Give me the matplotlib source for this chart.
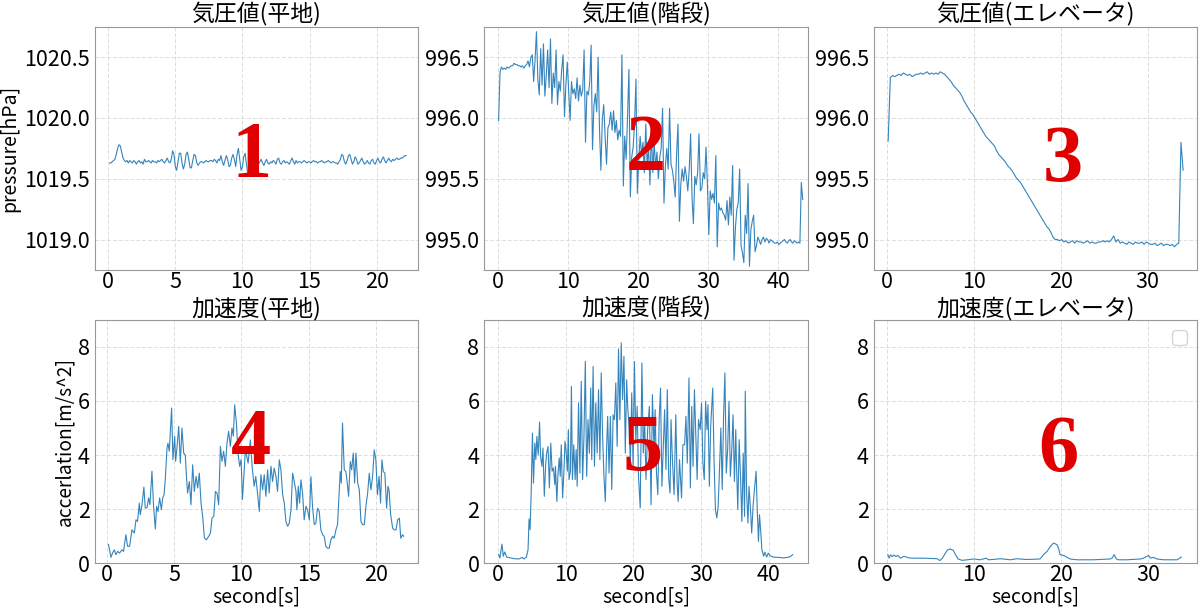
import numpy as np
import matplotlib
matplotlib.use("Agg")
import matplotlib.pyplot as plt

plt.rcParams['font.family'] = ['Noto Sans CJK JP', 'DejaVu Sans']

# 気圧値(平地)  サンプル間隔 0.1s, 0.1s から
p_flat = [1019.63, 1019.63, 1019.64, 1019.65, 1019.66,
          1019.70, 1019.75, 1019.78, 1019.77, 1019.72, 1019.67, 1019.65,
          1019.64, 1019.65, 1019.63, 1019.65, 1019.64, 1019.63, 1019.65, 1019.64, 1019.62, 1019.64, 1019.65, 1019.63, 1019.64,
          1019.62, 1019.66, 1019.64, 1019.64, 1019.65, 1019.64, 1019.63, 1019.65, 1019.64, 1019.64, 1019.63, 1019.65, 1019.64,
          1019.65, 1019.66, 1019.64, 1019.63, 1019.65, 1019.67, 1019.64, 1019.63,
          1019.66, 1019.73, 1019.70, 1019.60, 1019.57, 1019.64, 1019.71, 1019.71, 1019.63, 1019.58, 1019.62, 1019.70, 1019.72,
          1019.66, 1019.59, 1019.59, 1019.65, 1019.70, 1019.69, 1019.63, 1019.61,
          1019.63, 1019.64, 1019.64, 1019.63, 1019.64, 1019.65, 1019.64, 1019.64, 1019.65, 1019.65, 1019.64, 1019.66, 1019.65,
          1019.63, 1019.66, 1019.65,
          1019.69, 1019.64, 1019.61, 1019.65, 1019.69, 1019.66, 1019.60, 1019.61, 1019.67, 1019.70, 1019.66, 1019.60, 1019.70,
          1019.75, 1019.66, 1019.57, 1019.60, 1019.68, 1019.71, 1019.62, 1019.54, 1019.56, 1019.63, 1019.66, 1019.62,
          1019.60, 1019.63, 1019.64, 1019.62, 1019.64, 1019.66, 1019.63, 1019.61, 1019.64, 1019.66, 1019.63, 1019.62, 1019.64,
          1019.63, 1019.65, 1019.64, 1019.62, 1019.66, 1019.67, 1019.63, 1019.62, 1019.64, 1019.65, 1019.63, 1019.64, 1019.63,
          1019.62, 1019.65, 1019.67, 1019.64, 1019.62, 1019.65, 1019.63, 1019.64, 1019.64, 1019.63, 1019.64, 1019.65, 1019.64,
          1019.63, 1019.64, 1019.64, 1019.63, 1019.64, 1019.65, 1019.64, 1019.64, 1019.63, 1019.64, 1019.64, 1019.65, 1019.64,
          1019.63, 1019.64, 1019.64, 1019.65, 1019.64, 1019.63, 1019.64, 1019.64, 1019.63, 1019.63, 1019.62, 1019.64, 1019.66,
          1019.70, 1019.69, 1019.64, 1019.62, 1019.65, 1019.69, 1019.70, 1019.66, 1019.62, 1019.64, 1019.68, 1019.66, 1019.62,
          1019.63, 1019.65, 1019.67, 1019.64, 1019.62, 1019.63, 1019.65, 1019.63, 1019.62, 1019.65, 1019.66, 1019.63, 1019.62,
          1019.65, 1019.67, 1019.64, 1019.63, 1019.66, 1019.68, 1019.65, 1019.63, 1019.65, 1019.67, 1019.65, 1019.64, 1019.66,
          1019.65, 1019.66, 1019.67, 1019.66, 1019.66, 1019.67, 1019.67, 1019.68, 1019.69, 1019.69]

# 気圧値(階段)  サンプル間隔 0.2s, 0.1s から
p_stairs = [995.98, 996.38, 996.42, 996.40, 996.41, 996.40, 996.42, 996.41, 996.42, 996.43, 996.43, 996.45, 996.44,
            996.44, 996.43, 996.43, 996.42, 996.43, 996.41, 996.43, 996.44, 996.47, 996.42, 996.50, 996.52,
            996.30, 996.48, 996.71, 996.32, 996.19, 996.57, 996.27, 996.61, 996.18, 996.35, 996.56, 996.25, 996.65,
            996.12, 996.37, 996.25, 996.56, 996.11, 996.30, 996.22, 996.40, 996.52, 996.01, 996.27, 996.46, 996.22,
            995.98, 996.30, 996.20, 996.24, 996.16, 996.33, 996.14, 996.27, 996.18, 996.23, 996.56, 995.80, 996.22,
            996.19, 996.29, 996.60, 995.74, 996.10, 996.20, 996.05, 996.50, 995.90, 995.57, 995.99, 996.11, 995.85,
            995.62, 995.92, 995.95, 996.05, 995.90, 996.06, 995.88, 995.98, 995.82, 995.90, 995.85, 996.52, 995.44,
            995.85, 995.66, 996.01, 996.40, 995.35, 995.68, 995.76, 995.95, 996.32, 995.38, 995.65, 995.85, 995.70,
            995.80, 995.55, 995.95, 995.62, 995.75, 995.45, 995.90, 995.55, 995.80, 995.60, 995.72, 995.50, 995.68,
            995.75, 996.08, 995.30, 995.60, 995.75, 995.58, 996.08, 995.62, 995.57, 995.48, 995.35, 995.70, 995.95,
            995.15, 995.45, 995.58, 995.48, 995.60, 995.52, 995.40, 995.57, 995.87, 995.35, 995.13, 995.52, 995.45,
            995.55, 995.87, 995.40, 995.42, 995.55, 995.50, 995.76, 995.45, 995.04, 995.40, 995.33, 995.38, 995.30,
            995.69, 994.94, 995.30, 995.24, 995.26, 995.22, 995.20, 995.16, 995.32, 995.12, 995.35, 995.20, 995.61,
            994.83, 995.10, 995.25, 995.30, 995.58, 994.95, 994.89, 994.81, 995.20, 995.05, 995.46, 994.78, 995.08,
            995.15, 995.20, 994.90, 994.95, 995.02, 994.99, 994.96, 995.00, 995.02, 994.98, 995.01, 995.00, 994.97,
            995.00, 994.99, 994.98, 994.97, 994.97, 994.98, 994.96, 994.97, 994.98, 994.99, 995.00, 994.98, 994.97,
            994.99, 995.00, 994.98, 994.97, 994.99, 994.98, 994.97, 994.98, 994.97, 995.47, 995.33]

# 気圧値(エレベータ)  サンプル間隔 0.25s, 0.1s から
p_elev = [995.81, 996.33, 996.35, 996.34, 996.35, 996.36, 996.35, 996.37, 996.36, 996.35, 996.36, 996.34, 996.35,
          996.36, 996.36, 996.37, 996.36, 996.37, 996.38, 996.36, 996.37, 996.36, 996.37, 996.36, 996.38, 996.37,
          996.36, 996.34, 996.32, 996.30, 996.27, 996.25, 996.23, 996.21, 996.18, 996.14, 996.11, 996.08, 996.05,
          996.03, 996.00, 995.97, 995.94, 995.91, 995.88, 995.85, 995.83, 995.81, 995.79, 995.77, 995.73, 995.70,
          995.68, 995.66, 995.64, 995.61, 995.59, 995.57, 995.54, 995.51, 995.49, 995.47, 995.44, 995.41, 995.38,
          995.35, 995.32, 995.29, 995.26, 995.23, 995.20, 995.17, 995.14, 995.11, 995.09, 995.06, 995.02, 995.00,
          995.00, 994.99, 995.00, 994.98, 994.99, 994.97, 994.98, 994.99, 994.97, 994.99, 994.98, 994.98, 994.97,
          994.98, 994.99, 994.97, 994.98, 994.97, 994.97, 994.98, 994.98, 994.99, 994.98, 994.99, 994.98, 995.00,
          995.03, 994.98, 995.00, 994.97, 994.98, 994.97, 994.96, 994.98, 994.97, 994.96, 994.98, 994.97, 994.97,
          994.98, 994.96, 994.98, 994.97, 994.96, 994.96, 994.97, 994.95, 994.96, 994.97, 994.95, 994.96, 994.96,
          994.95, 994.96, 994.94, 994.96, 994.97, 995.80, 995.57]

# 加速度(平地)
a_flat_t = [0.12, 0.30, 0.42, 0.55, 0.67, 0.80, 0.94, 1.12, 1.24, 1.41, 1.54, 1.69, 1.86, 2.04, 2.16, 2.28, 2.41,
            2.48, 2.61, 2.75, 2.85, 2.98, 3.10, 3.20, 3.35, 3.47, 3.60, 3.70, 3.80, 3.92, 4.05, 4.15, 4.25, 4.34,
            4.47, 4.54, 4.64, 4.81, 4.91, 5.04, 5.11, 5.21, 5.34, 5.46, 5.58, 5.71, 5.83, 5.90, 6.00, 6.13, 6.25,
            6.38, 6.50, 6.63, 6.75, 6.87, 7.00, 7.12, 7.25, 7.40, 7.57, 7.70, 7.82, 7.95, 8.07, 8.19, 8.31, 8.44,
            8.56, 8.68, 8.81, 8.93, 9.05, 9.18, 9.30, 9.40, 9.50, 9.63, 9.75, 9.87, 9.98, 10.08, 10.30, 10.50,
            10.67, 10.80, 10.95, 11.07, 11.20, 11.33, 11.45, 11.58, 11.70, 11.82, 11.95, 12.07, 12.20, 12.32,
            12.44, 12.57, 12.69, 12.82, 12.94, 13.07, 13.19, 13.31, 13.44, 13.56, 13.69, 13.81, 13.93, 14.06,
            14.13, 14.23, 14.33, 14.43, 14.55, 14.67, 14.80, 14.92, 15.05, 15.17, 15.29, 15.42, 15.54, 15.66,
            15.79, 15.91, 16.04, 16.16, 16.28, 16.41, 16.53, 16.66, 16.78, 16.90, 17.03, 17.15, 17.28, 17.35,
            17.43, 17.52, 17.65, 17.77, 17.90, 17.97, 18.10, 18.20, 18.32, 18.42, 18.52, 18.65, 18.77, 18.89,
            19.02, 19.14, 19.26, 19.39, 19.51, 19.63, 19.76, 19.88, 20.00, 20.12, 20.24, 20.35, 20.45, 20.55,
            20.67, 20.80, 20.90, 20.98, 21.10, 21.25, 21.37, 21.50, 21.62, 21.75, 21.85, 21.99, 22.07]
a_flat = [0.68, 0.21, 0.37, 0.49, 0.31, 0.43, 0.37, 0.49, 0.43, 1.05, 0.62, 0.62, 1.23, 1.11, 1.60, 1.54, 2.22,
          1.79, 2.16, 2.81, 2.04, 2.04, 2.41, 2.16, 3.40, 2.10, 1.26, 2.10, 1.91, 2.41, 1.98, 2.41, 2.53, 3.09,
          4.26, 4.44, 4.14, 5.74, 3.83, 4.69, 3.77, 4.26, 5.06, 3.70, 5.00, 4.07, 4.00, 3.33, 2.59, 3.02, 2.16,
          3.64, 2.65, 3.21, 2.78, 3.33, 2.22, 1.73, 0.93, 0.86, 0.99, 1.11, 1.67, 1.73, 2.65, 2.59, 2.16, 4.32,
          3.77, 4.14, 3.58, 4.44, 4.88, 4.32, 5.00, 4.70, 5.86, 5.19, 4.07, 3.58, 3.83, 2.35, 4.20, 3.70,
          4.56, 3.58, 2.84, 3.21, 2.59, 1.91, 3.27, 2.71, 3.27, 2.47, 3.45, 2.59, 3.58, 3.02,
          3.51, 3.21, 2.65, 3.82, 3.45, 2.53, 2.22, 1.54, 1.36, 1.48, 1.97, 3.33, 3.02, 2.65,
          1.97, 2.84, 2.22, 3.08, 2.59, 1.60, 2.10, 1.97, 1.60, 3.20, 2.10, 1.42, 1.48, 2.03,
          1.91, 1.23, 1.05, 0.99, 0.62, 0.55, 0.55, 0.86, 0.99, 0.92, 1.23, 1.42, 2.71, 3.39,
          2.96, 5.18, 3.45, 3.39, 2.84, 2.47, 3.76, 3.45, 4.07, 2.96, 4.07, 2.96, 2.71, 1.54,
          1.42, 1.42, 2.10, 2.59, 3.33, 2.71, 3.21, 4.19, 3.82, 2.53, 3.21, 2.22, 3.82, 3.39,
          3.33, 2.03, 2.84, 2.71, 1.79, 1.29, 1.23, 1.23, 1.60, 1.66, 0.92, 1.05, 0.99]

# 加速度(階段)
a_stairs_t = [0.1, 0.3, 0.6, 0.8, 1.0, 1.3, 1.7, 2.4, 3.1, 3.6, 3.85, 4.2, 4.45, 4.6, 4.75, 4.9, 5.1, 5.25,
              5.45, 5.6, 5.75, 5.95, 6.15, 6.3, 6.5, 6.65, 6.85, 7.05, 7.2, 7.4, 7.6, 7.8, 8.0, 8.2, 8.4, 8.5,
              8.7, 8.85, 9.05, 9.2, 9.35, 9.55, 9.75, 9.9, 10.05, 10.25, 10.4, 10.5, 10.7, 10.85, 11.0, 11.2,
              11.4, 11.55, 11.7, 11.9, 12.1, 12.3, 12.5, 12.7, 12.9, 13.1, 13.3, 13.5, 13.7, 13.85, 14.05,
              14.25, 14.45, 14.65, 14.85, 15.05, 15.25, 15.45, 15.65, 15.85, 16.05, 16.2, 16.4, 16.6, 16.8,
              17.0, 17.2, 17.4, 17.6, 17.8, 18.0, 18.2, 18.4, 18.6, 18.8, 19.0, 19.15, 19.35, 19.55, 19.75,
              19.95, 20.15, 20.35, 20.55, 20.75, 21.0, 21.25, 21.45, 21.65, 21.85, 22.1, 22.35, 22.6, 22.8,
              23.05, 23.2, 23.4, 23.6, 23.8, 24.0, 24.2, 24.4, 24.6, 24.8, 25.0, 25.2, 25.4, 25.55, 25.75,
              26.0, 26.25, 26.45, 26.6, 26.8, 27.1, 27.3, 27.55, 27.75, 27.95, 28.2, 28.4, 28.6, 28.8, 29.0,
              29.2, 29.4, 29.6, 29.85, 30.05, 30.25, 30.45, 30.65, 30.85, 31.0, 31.2, 31.4, 31.7, 31.9, 32.1,
              32.3, 32.5, 32.7, 32.9, 33.1, 33.3, 33.5, 33.7, 33.9, 34.1, 34.3, 34.5, 34.7, 34.9, 35.1, 35.2,
              35.4, 35.6, 35.8, 36.0, 36.2, 36.4, 36.5, 36.7, 36.9, 37.05, 37.25, 37.45, 37.65, 37.85, 38.1,
              38.25, 38.45, 38.6, 38.8, 38.95, 39.1, 39.2, 39.4, 39.65, 39.9, 40.15, 40.65, 41.4, 42.1, 42.8,
              43.2, 43.5]
a_stairs = [0.31, 0.19, 0.70, 0.25, 0.41, 0.22, 0.20, 0.16, 0.15, 0.21, 0.15, 0.22, 0.49, 1.63, 1.23, 2.47, 4.81,
            2.96, 4.44, 3.83, 4.69, 4.01, 5.22, 3.95, 3.58, 4.26, 2.47, 3.64, 4.07, 4.32, 2.78, 4.44, 3.40, 3.52,
            2.90, 3.58, 2.28, 3.21, 3.89, 3.21, 4.38, 2.41, 3.40, 4.51, 4.20, 3.40, 4.94, 3.09, 3.40, 6.54, 3.09,
            4.38, 3.09, 4.20, 2.84, 5.93, 3.33, 6.73, 3.09, 4.69, 7.47, 3.21, 5.31, 4.07, 6.48, 3.83, 7.28,
            3.58, 5.93, 4.07, 6.42, 3.83, 7.04, 4.69, 3.21, 2.28, 4.32, 5.43, 3.33, 5.43, 2.72,
            5.49, 5.31, 6.67, 4.32, 7.93, 5.31, 8.15, 6.05, 7.65, 4.07, 6.79, 5.80, 5.06, 3.70, 6.30,
            3.58, 7.46, 4.50, 5.80, 3.20, 2.04, 7.41, 4.07, 5.31, 3.09, 4.94, 5.80, 2.16, 6.23,
            4.14, 5.68, 3.33, 2.53, 5.31, 6.48, 2.84, 4.32, 5.68, 3.46, 6.42, 3.15, 2.59, 5.31, 3.83,
            2.53, 5.49, 2.96, 2.28, 3.83, 2.41, 4.38, 4.38, 5.43, 3.70, 6.85, 2.78, 5.80, 3.58, 6.42,
            4.69, 3.09, 5.31, 4.94, 5.93, 3.70, 3.09, 5.99, 4.94, 5.86, 2.84, 5.06, 6.48, 3.77, 1.98,
            1.67, 2.10, 3.46, 5.00, 2.72, 5.43, 7.04, 3.33, 4.20, 5.99, 3.21, 4.14, 5.49, 3.02, 4.94, 3.70,
            1.98, 4.57, 3.21, 1.54, 4.07, 1.73, 6.36, 2.59, 1.48, 2.84, 2.10, 1.11, 2.10, 2.70, 3.40,
            2.10, 0.80, 1.79, 1.11, 0.49, 0.37, 0.25, 0.40, 0.22, 0.37, 0.27, 0.22, 0.21, 0.19, 0.21,
            0.25, 0.31]

# 加速度(エレベータ)
a_elev_t = [0.15, 0.3, 0.45, 0.65, 0.85, 1.05, 1.3, 1.6, 2.0, 2.35, 2.75, 3.5, 4.3, 5.0, 5.8, 6.1, 6.4, 6.75,
            7.0, 7.3, 7.65, 7.9, 8.2, 8.65, 9.25, 10.0, 10.75, 11.4, 11.7, 12.5, 13.05, 14.2, 14.95, 16.0,
            17.6, 18.0, 18.4, 18.8, 19.15, 19.55, 19.75, 19.9, 20.3, 20.7, 21.05, 21.85, 23.7, 25.65, 25.85,
            26.1, 26.35, 26.6, 27.55, 29.1, 29.45, 30.05, 30.25, 30.6, 31.0, 31.75, 32.5, 33.3, 33.8]
a_elev = [0.31, 0.18, 0.30, 0.24, 0.30, 0.24, 0.28, 0.18, 0.25, 0.21, 0.18, 0.18, 0.18, 0.17, 0.16, 0.09, 0.18,
          0.37, 0.49, 0.52, 0.47, 0.31, 0.15, 0.10, 0.12, 0.15, 0.12, 0.18, 0.12, 0.14, 0.16, 0.12, 0.16,
          0.13, 0.15, 0.31, 0.43, 0.62, 0.74, 0.68, 0.52, 0.31, 0.28, 0.21, 0.15, 0.12, 0.12, 0.15, 0.18,
          0.31, 0.15, 0.12, 0.12, 0.15, 0.18, 0.28, 0.18, 0.21, 0.15, 0.12, 0.12, 0.12, 0.22]

titles = ['気圧値(平地)', '気圧値(階段)', '気圧値(エレベータ)',
          '加速度(平地)', '加速度(階段)', '加速度(エレベータ)']
numbers = ['1', '2', '3', '4', '5', '6']

t_p_flat = 0.1 + 0.1 * np.arange(len(p_flat))
t_p_stairs = 0.1 + 0.2 * np.arange(len(p_stairs))
t_p_elev = 0.1 + 0.25 * np.arange(len(p_elev))

series = [(t_p_flat, p_flat), (t_p_stairs, p_stairs), (t_p_elev, p_elev),
          (a_flat_t, a_flat), (a_stairs_t, a_stairs), (a_elev_t, a_elev)]

xlims = [(-1.0, 23.1), (-1.96, 44.2), (-1.58, 35.7), (-0.9, 23.15), (-2.02, 45.7), (-1.49, 35.6)]
xticks = [[0, 5, 10, 15, 20], [0, 10, 20, 30, 40], [0, 10, 20, 30],
          [0, 5, 10, 15, 20], [0, 10, 20, 30, 40], [0, 10, 20, 30]]
num_pos = [(0.486, 0.461), (0.50, 0.49), (0.585, 0.444),
           (0.483, 0.486), (0.489, 0.461), (0.57, 0.457)]

fig, axes = plt.subplots(2, 3, figsize=(12, 6.1), dpi=100)
plt.subplots_adjust(left=0.079, right=0.9975, bottom=0.077, top=0.956, wspace=0.204, hspace=0.206)

for i, ax in enumerate(axes.flat):
    t, v = series[i]
    ax.plot(t, v, color='#1f77b4', lw=0.8, alpha=0.9)
    ax.set_title(titles[i], fontsize=16.5, pad=2)
    ax.set_xlim(xlims[i])
    ax.set_xticks(xticks[i])
    ax.grid(True, ls=(0, (4, 2)), color='#dddddd', lw=0.7)
    ax.set_axisbelow(True)
    ax.tick_params(length=0, labelsize=15.5)
    ax.tick_params(axis='x', pad=1)
    for s in ax.spines.values():
        s.set_color('#999999')
    ax.text(num_pos[i][0], num_pos[i][1], numbers[i], transform=ax.transAxes,
            ha='center', va='center', fontsize=58, fontweight='bold',
            family='Liberation Serif', color='#e00000')

axes[0, 0].set_ylim(1018.75, 1020.75)
axes[0, 0].set_yticks([1019.0, 1019.5, 1020.0, 1020.5])
axes[0, 0].set_yticklabels(['1019.0', '1019.5', '1020.0', '1020.5'])
for ax in axes[0, 1:]:
    ax.set_ylim(994.75, 996.75)
    ax.set_yticks([995.0, 995.5, 996.0, 996.5])
    ax.set_yticklabels(['995.0', '995.5', '996.0', '996.5'])
for ax in axes[1]:
    ax.set_ylim(0, 9)
    ax.set_yticks([0, 2, 4, 6, 8])
    ax.set_xlabel('second[s]', fontsize=14, labelpad=0)

axes[0, 0].set_ylabel('pressure[hPa]', fontsize=14)
axes[0, 0].yaxis.set_label_coords(-0.232, 0.5)
axes[1, 0].set_ylabel('accerlation[m/s^2]', fontsize=13.8)
axes[1, 0].yaxis.set_label_coords(-0.059, 0.5)
axes[1, 2].legend(loc='upper right', fontsize=14)

plt.savefig('out.png')
